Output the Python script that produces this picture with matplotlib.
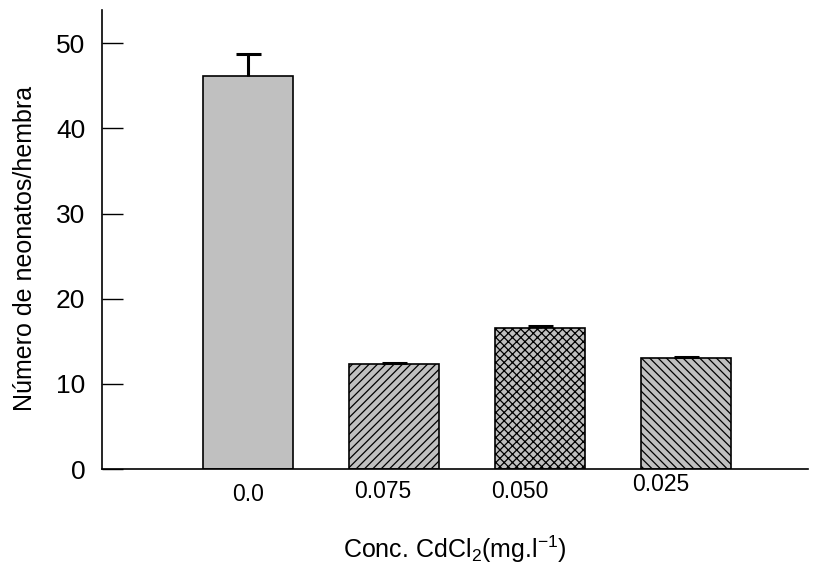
import numpy as np
import matplotlib
matplotlib.use("Agg")
import matplotlib.pyplot as plt

# datos
conc_labels = ["0.0", "0.075", "0.050", "0.025"]
neonatos = [46.2, 12.3, 16.6, 13.0]
error_sup = [2.5, 0.15, 0.15, 0.15]
hatches = ["", "////", "xxxx", "\\\\\\\\"]

plt.rcParams["font.family"] = ["Liberation Sans", "DejaVu Sans"]
plt.rcParams["hatch.linewidth"] = 0.9
plt.rcParams["mathtext.fontset"] = "custom"
plt.rcParams["mathtext.rm"] = "Liberation Sans"

fig = plt.figure(figsize=(8.24, 5.74), dpi=100)
ax = fig.add_axes([0.1238, 0.1829, 0.8568, 0.7997])

x = np.arange(len(neonatos))
bars = ax.bar(x, neonatos, width=0.616, color="#c0c0c0", edgecolor="black",
              linewidth=1.2, zorder=2)
for b, h in zip(bars, hatches):
    b.set_hatch(h)

# barras de error solo hacia arriba
eb = ax.errorbar(x, neonatos, yerr=[np.zeros(len(neonatos)), error_sup], fmt="none",
                 ecolor="black", elinewidth=2.2, capsize=9, capthick=2.2, zorder=3)
eb[1][0].set_visible(False)

ax.set_xlim(-1.0, 3.836)
ax.set_ylim(0, 53.9)
ax.set_yticks([0, 10, 20, 30, 40, 50])
ax.tick_params(axis="y", direction="in", length=15, width=1, labelsize=19, pad=12)
ax.set_xticks([])

# etiquetas del eje x, un poco desalineadas como en el original
lab_dx = [0.0, -0.08, -0.14, -0.17]
lab_dy = [-18, -16, -16, -11]
for xi, lab, dx, dy in zip(x, conc_labels, lab_dx, lab_dy):
    ax.annotate(lab, (xi + dx, 0), xytext=(0, dy), textcoords="offset points",
                ha="center", va="center", fontsize=16.5, annotation_clip=False)

ax.spines["top"].set_visible(False)
ax.spines["right"].set_visible(False)
for s in ("left", "bottom"):
    ax.spines[s].set_linewidth(1.2)

ax.set_ylabel("Número de neonatos/hembra", fontsize=18)
ax.yaxis.set_label_coords(-0.092, 0.48)
ax.annotate(r"Conc. CdCl$_2$(mg.l$^{-1}$)", (1.42, 0), xytext=(0, -58),
            xycoords=ax.get_xaxis_transform(), textcoords="offset points",
            fontsize=18, ha="center", va="center", annotation_clip=False)

fig.savefig("out.png", dpi=100)
